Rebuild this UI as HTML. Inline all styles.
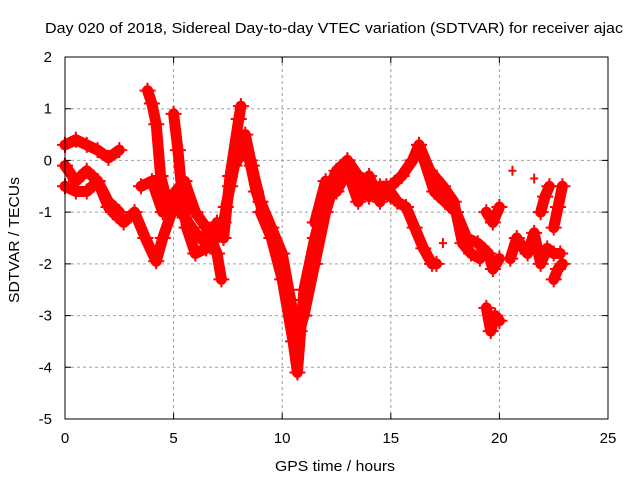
<!DOCTYPE html>
<html><head><meta charset="utf-8"><style>
body{margin:0;background:#fff;}
svg{display:block;font-family:"Liberation Sans",sans-serif;}
</style></head><body>
<svg id="chart" width="640" height="480" viewBox="0 0 640 480" xmlns="http://www.w3.org/2000/svg">
<rect width="640" height="480" fill="#fff"/>
<text x="45" y="33" font-size="15" textLength="578" lengthAdjust="spacingAndGlyphs">Day 020 of 2018, Sidereal Day-to-day VTEC variation (SDTVAR) for receiver ajac</text>
<g id="grid"></g>
<g id="series"></g>
<rect x="65" y="57" width="543" height="362" fill="none" stroke="#000" stroke-width="1"/>
<g id="ticks"></g>
<text x="275" y="471" font-size="15" textLength="120" lengthAdjust="spacingAndGlyphs">GPS time / hours</text>
<text x="0" y="0" font-size="15" textLength="126" lengthAdjust="spacingAndGlyphs" transform="translate(19,303) rotate(-90)">SDTVAR / TECUs</text>
</svg>
<script>
const xTicks=[0,5,10,15,20,25];
const yTicks=[2,1,0,-1,-2,-3,-4,-5];
const sA_t=[0,0.5,1,1.5,2,2.5];
const sA_v=[0.3,0.4,0.3,0.2,0.05,0.2];
const sB_t=[0,0.5,1,1.5,2,2.5];
const sB_v=[-0.5,-0.6,-0.6,-0.4,-0.8,-1.0];
const sC_t=[0,0.5,1,1.5,2];
const sC_v=[-0.1,-0.4,-0.2,-0.4,-0.9];
const sD_t=[2.2,2.7,3.2,3.7,4.2,4.5,5];
const sD_v=[-1.0,-1.2,-1.0,-1.5,-1.95,-1.5,-0.9];
const sE_t=[3.8,4.0,4.2,4.4,4.7,5.1,5.5,6,6.5,7,7.2];
const sE_v=[1.35,1.1,0.7,-0.3,-0.8,-0.6,-0.4,-1.0,-1.3,-1.8,-2.3];
const sF_t=[5,5.2,5.4,5.6,6,6.5,7,7.3,7.6,8,8.1];
const sF_v=[0.9,0.2,-0.7,-1.3,-1.8,-1.7,-1.2,-1.5,-0.3,0.8,1.05];
const sG_t=[3.5,4,4.5,5,5.5,6,6.5,7];
const sG_v=[-0.5,-0.4,-1.0,-0.8,-1.1,-1.4,-1.6,-1.5];
const sH_t=[7.3,7.6,8,8.3,8.6,9,9.5,10,10.3,10.6,10.8,11,11.5,12,12.5,13,13.5,14,14.5,15];
const sH_v=[-1.2,-0.5,0.4,0.5,-0.1,-0.8,-1.3,-1.8,-2.5,-3.2,-3.3,-3.0,-2.0,-1.0,-0.3,0.0,-0.3,-0.4,-0.6,-0.7];
const sS_t=[7.4,7.8,8.2,8.5,8.8,9.2,9.6,10,10.4];
const sS_v=[-0.9,-0.1,0.2,0.0,-0.6,-1.1,-1.5,-2.1,-2.7];
const sI_t=[9,9.5,10,10.5,10.7,11,11.5,12,12.5,13,13.5,14,14.5,15,15.5,16,16.3,17,17.5,18,18.5,19,19.5,19.7,20];
const sI_v=[-1.0,-1.5,-2.3,-3.5,-4.1,-2.5,-1.5,-0.7,-0.2,0.0,-0.5,-0.7,-0.5,-0.5,-0.3,0.0,0.3,-0.6,-0.8,-1.0,-1.5,-1.6,-1.8,-2.1,-1.9];
const sT_t=[11.5,12,12.5,13,13.5,14,14.5];
const sT_v=[-1.2,-0.4,-0.6,-0.2,-0.8,-0.3,-0.8];
const sJ_t=[14.8,15.3,15.7,16.1,16.5,16.9,17.1];
const sJ_v=[-0.5,-0.8,-0.9,-1.3,-1.7,-2.0,-2.0];
const sK_t=[16.3,16.8,17.4,17.9,18.3,18.7,19.1];
const sK_v=[0.3,-0.2,-0.5,-0.8,-1.6,-1.8,-1.9];
const sL_t=[19.4,19.6,19.8,20];
const sL_v=[-2.85,-3.3,-3.0,-3.1];
const sM_t=[19.4,19.7,20];
const sM_v=[-1.0,-1.2,-0.9];
const sN_t=[20.5,20.8,21.1,21.3,21.6,21.9,22.2,22.5,22.8];
const sN_v=[-1.9,-1.5,-1.7,-1.8,-1.4,-2.0,-1.7,-1.8,-1.8];
const sO_t=[21.9,22.1,22.3];
const sO_v=[-1.0,-0.7,-0.5];
const sP_t=[22.5,22.7,22.9];
const sP_v=[-2.3,-2.1,-2.0];
const sQ_t=[22.5,22.7,22.9];
const sQ_v=[-1.3,-0.9,-0.5];
const sR_t=[20.6,21.6,17.4];
const sR_v=[-0.2,-0.35,-1.6];
const series=[[sA_t,sA_v],[sB_t,sB_v],[sC_t,sC_v],[sD_t,sD_v],[sE_t,sE_v],[sF_t,sF_v],[sG_t,sG_v],[sH_t,sH_v],[sS_t,sS_v],[sI_t,sI_v],[sT_t,sT_v],[sJ_t,sJ_v],[sK_t,sK_v],[sL_t,sL_v],[sM_t,sM_v],[sN_t,sN_v],[sO_t,sO_v],[sP_t,sP_v],[sQ_t,sQ_v]];
const NS="http://www.w3.org/2000/svg";
function xs(t){return 65+t*(543/25);}
function ys(v){return 57+(2-v)*(362/7);}
const grid=document.getElementById('grid'),ticks=document.getElementById('ticks'),sg=document.getElementById('series');
function mk(tag,attrs,parent){const e=document.createElementNS(NS,tag);for(const k in attrs)e.setAttribute(k,attrs[k]);parent.appendChild(e);return e;}
xTicks.forEach(t=>{
 const x=xs(t);
 if(t>0&&t<25){const g=mk('line',{x1:x,x2:x,y1:57,y2:419,stroke:'#a0a0a0','stroke-dasharray':'3,3'},grid);
 
 }
 const tk=mk('path',{d:`M${x},419v-6M${x},57v6`,stroke:'#000'},ticks);
 
 
 const l=mk('text',{x:x,y:443,'font-size':'15','text-anchor':'middle'},ticks);l.textContent=t;
 
 
});
yTicks.forEach(v=>{
 const y=ys(v);
 if(v<2&&v>-5){const g=mk('line',{x1:65,x2:608,y1:y,y2:y,stroke:'#a0a0a0','stroke-dasharray':'3,3'},grid);
 
 }
 const tk=mk('path',{d:`M65,${y}h6M608,${y}h-6`,stroke:'#000'},ticks);
 
 
 const l=mk('text',{x:52,y:y+5,'font-size':'15','text-anchor':'end'},ticks);l.textContent=v;
 
 
});
series.forEach(([T,V])=>{
 const pts=T.map((t,i)=>xs(t)+','+ys(V[i])).join(' ');
 const p=mk('polyline',{points:pts,fill:'none',stroke:'#ff0000','stroke-width':11,'stroke-linejoin':'round','stroke-linecap':'round'},sg);
 
 
 T.forEach((t,i)=>{
  const x=xs(t),y=ys(V[i]);
  const m=mk('path',{d:`M${x-8},${y}h16M${x},${y-8}v16`,stroke:'#ff0000','stroke-width':2},sg);
  
  
 });
});
sR_t.forEach((t,i)=>{
 const x=xs(t),y=ys(sR_v[i]);
 const m=mk('path',{d:`M${x-4},${y}h8M${x},${y-5}v10`,stroke:'#ff0000','stroke-width':2},sg);
 
 
});
</script>
</body></html>
